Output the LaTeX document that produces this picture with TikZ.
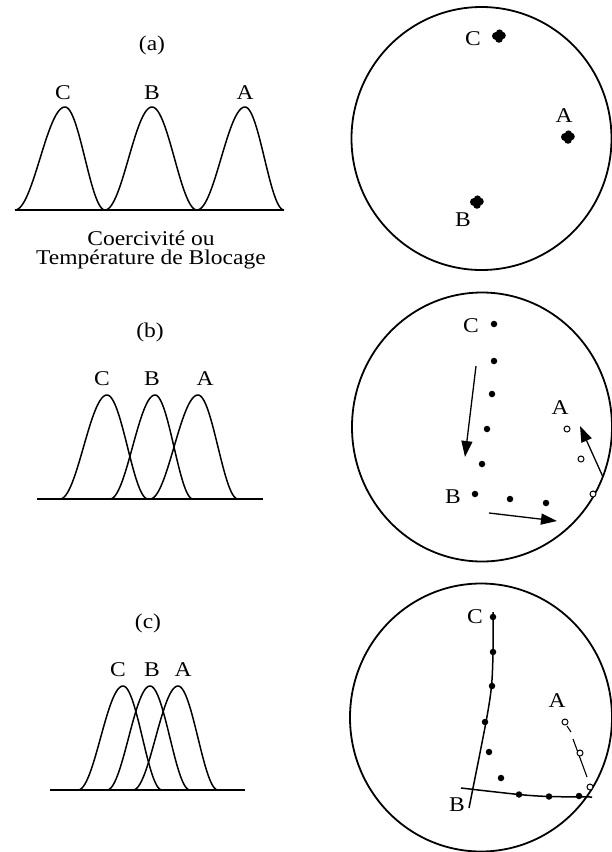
\documentclass[tikz,border=0pt]{standalone}
\usepackage{fontspec}
\setmainfont{Liberation Serif}
\usetikzlibrary{arrows.meta}
\newcommand{\mytxt}[1]{\scalebox{1.12}[1]{#1}}
\newcommand{\peak}[5]{\draw[curve] plot[domain=#1:#2,samples=40] (\x,{#4-#5*(1-cos(180*(\x-#1)/(#2-#1)))/2}) -- plot[domain=#2:#3,samples=40] (\x,{#4-#5*(1+cos(180*(\x-#2)/(#3-#2)))/2});}
\begin{document}
\begin{tikzpicture}[x=1pt,y=-1pt,
  curve/.style={line width=1.5pt,line join=round},
  axis/.style={line width=1.6pt},
  ring/.style={line width=1.8pt},
  lbl/.style={anchor=base,inner sep=0pt,font=\fontsize{21}{22}\selectfont},
  dot/.style={circle,fill=black,inner sep=0pt,minimum size=6.5pt},
  odot/.style={circle,draw=black,fill=white,line width=1pt,inner sep=0pt,minimum size=6pt},
  fit line/.style={line width=1.5pt},
  bigarrow/.style={line width=1.3pt,-{Triangle[length=16pt,width=11pt]}}]
\useasboundingbox (0,0) rectangle (611,852);
% ---------- (a) ----------
\node[lbl] (ta) at (152,50) {\mytxt{(a)}};
\node[lbl] (aC) at (63,99) {\mytxt{C}};
\node[lbl] (aB) at (152,99) {\mytxt{B}};
\node[lbl] (aA) at (245,99) {\mytxt{A}};
\draw[axis] (15,210) -- (284,210);
\peak{15}{65}{105}{210}{103}
\peak{105}{152}{197}{210}{103}
\peak{197}{245}{284}{210}{103}
\node[inner sep=0pt,align=center,font=\fontsize{21}{19}\selectfont] (cx) at (151,250)
  {\mytxt{Coercivité ou}\\\mytxt{Température de Blocage}};
\draw[ring] (481.5,138.5) ellipse [x radius=130pt, y radius=131.5pt];
\node[lbl] (paC) at (473,45) {\mytxt{C}};
\node[lbl] (paA) at (564,122) {\mytxt{A}};
\node[lbl] (paB) at (463,226) {\mytxt{B}};
\foreach \cx/\cy in {499/36,568/137,477/202}{
  \fill (\cx-3,\cy) circle (4pt);
  \fill (\cx+3,\cy-0.5) circle (3.8pt);
  \fill (\cx,\cy+3) circle (3.8pt);
  \fill (\cx+0.5,\cy-3) circle (3.6pt);
}
% ---------- (b) ----------
\node[lbl] (tb) at (150,337) {\mytxt{(b)}};
\node[lbl] (bC) at (102,385) {\mytxt{C}};
\node[lbl] (bB) at (152,385) {\mytxt{B}};
\node[lbl] (bA) at (205,385) {\mytxt{A}};
\draw[axis] (37,499) -- (263,499);
\peak{60}{107}{148}{499}{104}
\peak{110}{155}{193}{499}{104}
\peak{150}{198}{238}{499}{104}
\draw[ring] (482,427) ellipse [x radius=130pt, y radius=134.5pt];
\node[lbl] (pbC) at (471,332) {\mytxt{C}};
\node[lbl] (pbA) at (560,414) {\mytxt{A}};
\node[lbl] (pbB) at (453,503) {\mytxt{B}};
\foreach \px/\py in {494/324,494/361,492/394,487/429,482/464,475/494,510/499,546/503}
  \node[dot] at (\px,\py) {};
\foreach \px/\py in {567/429,581/459,593/494}
  \node[odot] at (\px,\py) {};
\coordinate (a1s) at (476,366); \coordinate (a1e) at (465,457);
\coordinate (a2s) at (489,513); \coordinate (a2e) at (557,521);
\coordinate (a3s) at (603,477); \coordinate (a3e) at (580,426);
\draw[bigarrow] (a1s) -- (a1e);
\draw[bigarrow] (a2s) -- (a2e);
\draw[bigarrow] (a3s) -- (a3e);
% ---------- (c) ----------
\node[lbl] (tc) at (148,628) {\mytxt{(c)}};
\node[lbl] (cC) at (118,676) {\mytxt{C}};
\node[lbl] (cB) at (152,676) {\mytxt{B}};
\node[lbl] (cA) at (183,676) {\mytxt{A}};
\draw[axis] (50,790) -- (245,790);
\peak{78}{123}{162}{790}{104}
\peak{107}{150}{190}{790}{104}
\peak{133}{178}{218}{790}{104}
\draw[ring] (481,717.5) ellipse [x radius=131pt, y radius=134pt];
\node[lbl] (pcC) at (475,623) {\mytxt{C}};
\node[lbl] (pcA) at (557,707) {\mytxt{A}};
\node[lbl] (pcB) at (457,811) {\mytxt{B}};
\coordinate (lc1) at (493,612); \coordinate (lc2) at (469,808);
\coordinate (lb1) at (461,788); \coordinate (lb2) at (592,797);
\draw[fit line] plot[smooth] coordinates {(lc1) (493,652) (491.5,686) (486,722) (lc2)};
\draw[fit line] plot[smooth] coordinates {(lb1) (519,794.5) (549,796.5) (lb2)};
\foreach \px/\py in {493/617,493/652,492/686,485/722,489/752,501/778,519/794.5,549/796.5,579/796}
  \node[dot] at (\px,\py) {};
\coordinate (oa) at (565,722); \coordinate (ob) at (580,753); \coordinate (oc) at (590,787);
\draw[line width=1.1pt] (567,726) -- (571,732);
\draw[line width=1.1pt] (573,739) -- (587,777);
\node[odot] at (oa) {};
\node[odot] at (ob) {};
\node[odot] at (oc) {};
\end{tikzpicture}
\end{document}
